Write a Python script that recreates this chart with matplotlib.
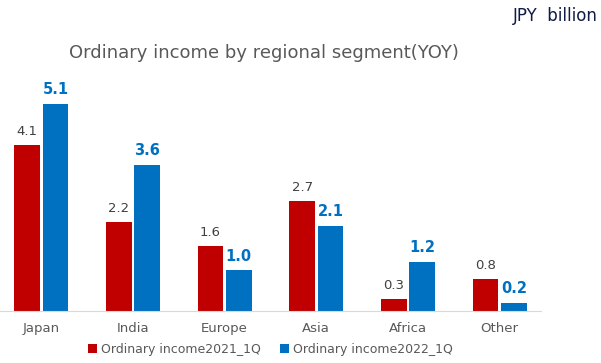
import numpy as np
import matplotlib.pyplot as plt

regions = ["Japan", "India", "Europe", "Asia", "Africa", "Other"]
income_2021 = [4.1, 2.2, 1.6, 2.7, 0.3, 0.8]
income_2022 = [5.1, 3.6, 1.0, 2.1, 1.2, 0.2]
series_names = ["Ordinary income2021_1Q", "Ordinary income2022_1Q"]

RED = "#C00000"
BLUE = "#0070C0"

fig = plt.figure(figsize=(6.01, 3.63), dpi=100)
ax = fig.add_axes([0.0, 0.143, 0.9, 0.64])

x = np.arange(len(regions))
w = 0.28
off = 0.155
b1 = ax.bar(x - off, income_2021, w, color=RED, label=series_names[0])
b2 = ax.bar(x + off, income_2022, w, color=BLUE, label=series_names[1])

for rect, v in zip(b1, income_2021):
    ax.annotate(f"{v:.1f}", (rect.get_x() + rect.get_width() / 2, v),
                xytext=(0, 5), textcoords="offset points", ha="center", va="bottom",
                fontsize=9.5, color="#404040")
for rect, v in zip(b2, income_2022):
    ax.annotate(f"{v:.1f}", (rect.get_x() + rect.get_width() / 2, v),
                xytext=(0, 5), textcoords="offset points", ha="center", va="bottom",
                fontsize=10.5, color=BLUE, fontweight="bold")

ax.set_xlim(-0.45, len(regions) - 0.55)
ax.set_ylim(0, 5.72)
ax.set_yticks([])
ax.set_xticks(x)
ax.set_xticklabels(regions, fontsize=9.5, color="#595959")
ax.tick_params(axis="x", length=0, pad=8)
for s in ["top", "right", "left"]:
    ax.spines[s].set_visible(False)
ax.spines["bottom"].set_color("#D9D9D9")

fig.text(0.439, 0.855, "Ordinary income by regional segment(YOY)", ha="center", va="center",
         fontsize=13, color="#595959")
fig.text(0.995, 0.955, "JPY  billion", ha="right", va="center", fontsize=12, color="#0F1B45")

fig.legend(loc="center", bbox_to_anchor=(0.45, 0.037), ncol=2, frameon=False,
           fontsize=9, handlelength=0.7, handleheight=0.7, handletextpad=0.3,
           columnspacing=1.6, labelcolor="#595959")

fig.savefig("out.png", dpi=100)
